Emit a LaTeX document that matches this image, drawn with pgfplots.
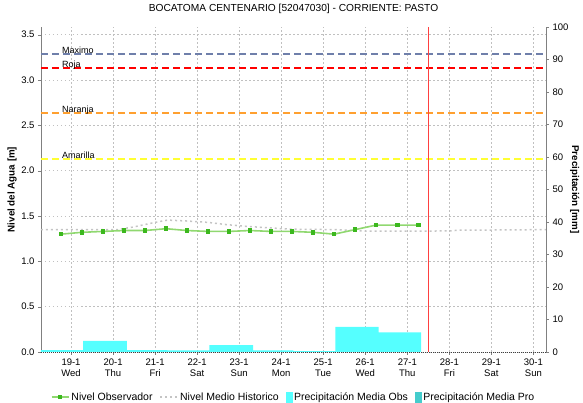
\documentclass[border=0pt]{standalone}
\usepackage{fontspec}
\setmainfont{Liberation Sans}
\usepackage{pgfplots}
\pgfplotsset{compat=1.18}
\definecolor{maxc}{HTML}{6F7FAA}
\definecolor{rojac}{HTML}{FF0000}
\definecolor{narc}{HTML}{FFA030}
\definecolor{amac}{HTML}{FFFF33}
\definecolor{obsl}{HTML}{90D870}
\definecolor{obsm}{HTML}{3CB81E}
\definecolor{histc}{HTML}{C4C4C4}
\definecolor{pobs}{HTML}{55FFFF}
\definecolor{ppro}{HTML}{44CCCC}
\definecolor{gridc}{HTML}{C0C0C0}
\definecolor{axc}{HTML}{808080}
\definecolor{vred}{HTML}{FF4040}
\begin{document}
\begin{tikzpicture}
\begin{axis}[
 at={(0,0)}, anchor=south west,
 scale only axis, width=505pt, height=325pt,
 xmin=-0.714, xmax=11.3, ymin=0, ymax=3.585,
 axis x line*=bottom, axis y line*=left,
 x axis line style={draw=none},
 xtick={0,...,11}, xticklabels={}, x tick style={draw=none},
 ytick={0,0.5,...,3.5},
 yticklabel style={/pgf/number format/.cd, fixed, fixed zerofill, precision=1, assume math mode=true},
 y axis line style={draw=axc},
 y tick style={draw=axc},
 tick align=outside, major tick length=3pt,
 ticklabel style={font=\fontsize{9.5}{11}\selectfont},
 grid=major, major grid style={draw=gridc, line width=0.8pt, dash pattern=on 1.5pt off 2.5pt},
 ylabel={Nivel del Agua [m]},
 ylabel style={at={(axis description cs:-0.057,0.5)}, anchor=center, font=\fontsize{9.8}{11}\selectfont\bfseries},
 title={BOCATOMA CENTENARIO [52047030] - CORRIENTE: PASTO},
 title style={at={(axis description cs:0.5,1.037)}, anchor=center, font=\fontsize{10.2}{12}\selectfont},
 legend columns=4,
 legend style={at={(axis description cs:0.5,-0.1385)}, anchor=center, draw=none, fill=none,
   font=\fontsize{10.5}{12}\selectfont, /tikz/every even column/.append style={column sep=5pt}},
]
\addplot[maxc, line width=1.6pt, dash pattern=on 7pt off 4pt, forget plot] coordinates {(-0.714,3.29) (11.3,3.29)}
  node[pos=0, anchor=base west, xshift=17pt, yshift=0.5pt, text=black, font=\fontsize{9}{10}\selectfont] {Maximo};
\addplot[rojac, line width=1.6pt, dash pattern=on 7pt off 4pt, forget plot] coordinates {(-0.714,3.135) (11.3,3.135)}
  node[pos=0, anchor=base west, xshift=17pt, yshift=0.5pt, text=black, font=\fontsize{9}{10}\selectfont] {Roja};
\addplot[narc, line width=1.6pt, dash pattern=on 7pt off 4pt, forget plot] coordinates {(-0.714,2.635) (11.3,2.635)}
  node[pos=0, anchor=base west, xshift=17pt, yshift=0.5pt, text=black, font=\fontsize{9}{10}\selectfont] {Naranja};
\addplot[amac, line width=1.6pt, dash pattern=on 7pt off 4pt, forget plot] coordinates {(-0.714,2.127) (11.3,2.127)}
  node[pos=0, anchor=base west, xshift=17pt, yshift=0.5pt, text=black, font=\fontsize{9}{10}\selectfont] {Amarilla};
\addplot[histc, line width=1.5pt, dash pattern=on 2pt off 3pt, forget plot] coordinates {
 (-0.714,1.35) (1.1,1.35) (1.5,1.38) (2.0,1.43) (2.3,1.455) (2.75,1.445) (3.25,1.43) (3.7,1.405)
 (4.2,1.385) (4.7,1.37) (5.2,1.355) (6.3,1.35) (7.0,1.333) (9.0,1.335) (9.2,1.343) (11.3,1.35)};
\addplot[vred, line width=0.9pt, forget plot] coordinates {(8.5,0) (8.5,3.585)};
\addplot[obsl, line width=1.6pt, mark=square*, mark size=1.5pt, mark options={obsm, fill=obsm, solid}] coordinates {
 (-0.24,1.30) (0.26,1.32) (0.76,1.33) (1.26,1.34) (1.76,1.34) (2.26,1.36) (2.76,1.34) (3.26,1.33)
 (3.76,1.33) (4.26,1.34) (4.76,1.33) (5.26,1.33) (5.76,1.32) (6.26,1.30) (6.76,1.35) (7.26,1.40)
 (7.76,1.40) (8.26,1.40)};
\addlegendentry{Nivel Observador}
\addlegendimage{histc, line width=1.5pt, dash pattern=on 2pt off 3pt}
\addlegendentry{Nivel Medio Historico}
\addlegendimage{legend image code/.code={\fill[pobs] (0pt,-5pt) rectangle (6pt,5pt);}}
\addlegendentry{Precipitación Media Obs}
\addlegendimage{legend image code/.code={\fill[ppro] (0pt,-5pt) rectangle (6pt,5pt);}}
\addlegendentry{Precipitación Media Pro}
\end{axis}
\begin{axis}[
 at={(0,0)}, anchor=south west,
 scale only axis, width=505pt, height=325pt,
 xmin=-0.714, xmax=11.3, ymin=0, ymax=100,
 axis x line*=bottom, axis y line*=right,
 axis on top,
 xtick={0,...,11},
 xticklabels={{19-1\\Wed},{20-1\\Thu},{21-1\\Fri},{22-1\\Sat},{23-1\\Sun},{24-1\\Mon},{25-1\\Tue},{26-1\\Wed},{27-1\\Thu},{28-1\\Fri},{29-1\\Sat},{30-1\\Sun}},
 x tick label style={align=center, font=\fontsize{9.5}{11}\selectfont},
 ytick={0,10,...,100},
 y tick label style={font=\fontsize{9.5}{11}\selectfont, /pgf/number format/assume math mode=true},
 tick align=outside, major tick length=3pt,
 x axis line style={draw=black!75, line width=0.8pt, dash pattern=on 1pt off 1pt},
 y axis line style={draw=axc},
 tick style={draw=axc},
 ylabel={Precipitación [mm]},
 ylabel style={at={(axis description cs:1.057,0.5)}, anchor=center, rotate=180, font=\fontsize{9.8}{11}\selectfont\bfseries},
]
\addplot[draw=none, fill=pobs, const plot] coordinates {
 (-0.714,0.6) (0.29,3.4) (1.33,0.6) (2.29,0.5) (3.29,2.15) (4.33,0.5) (5.29,0.3) (6.29,7.7) (7.32,6.06) (8.33,6.06)} \closedcycle;
\end{axis}
\pgfresetboundingbox
\path (-41pt,-51pt) rectangle (542pt,352pt);
\end{tikzpicture}
\end{document}
